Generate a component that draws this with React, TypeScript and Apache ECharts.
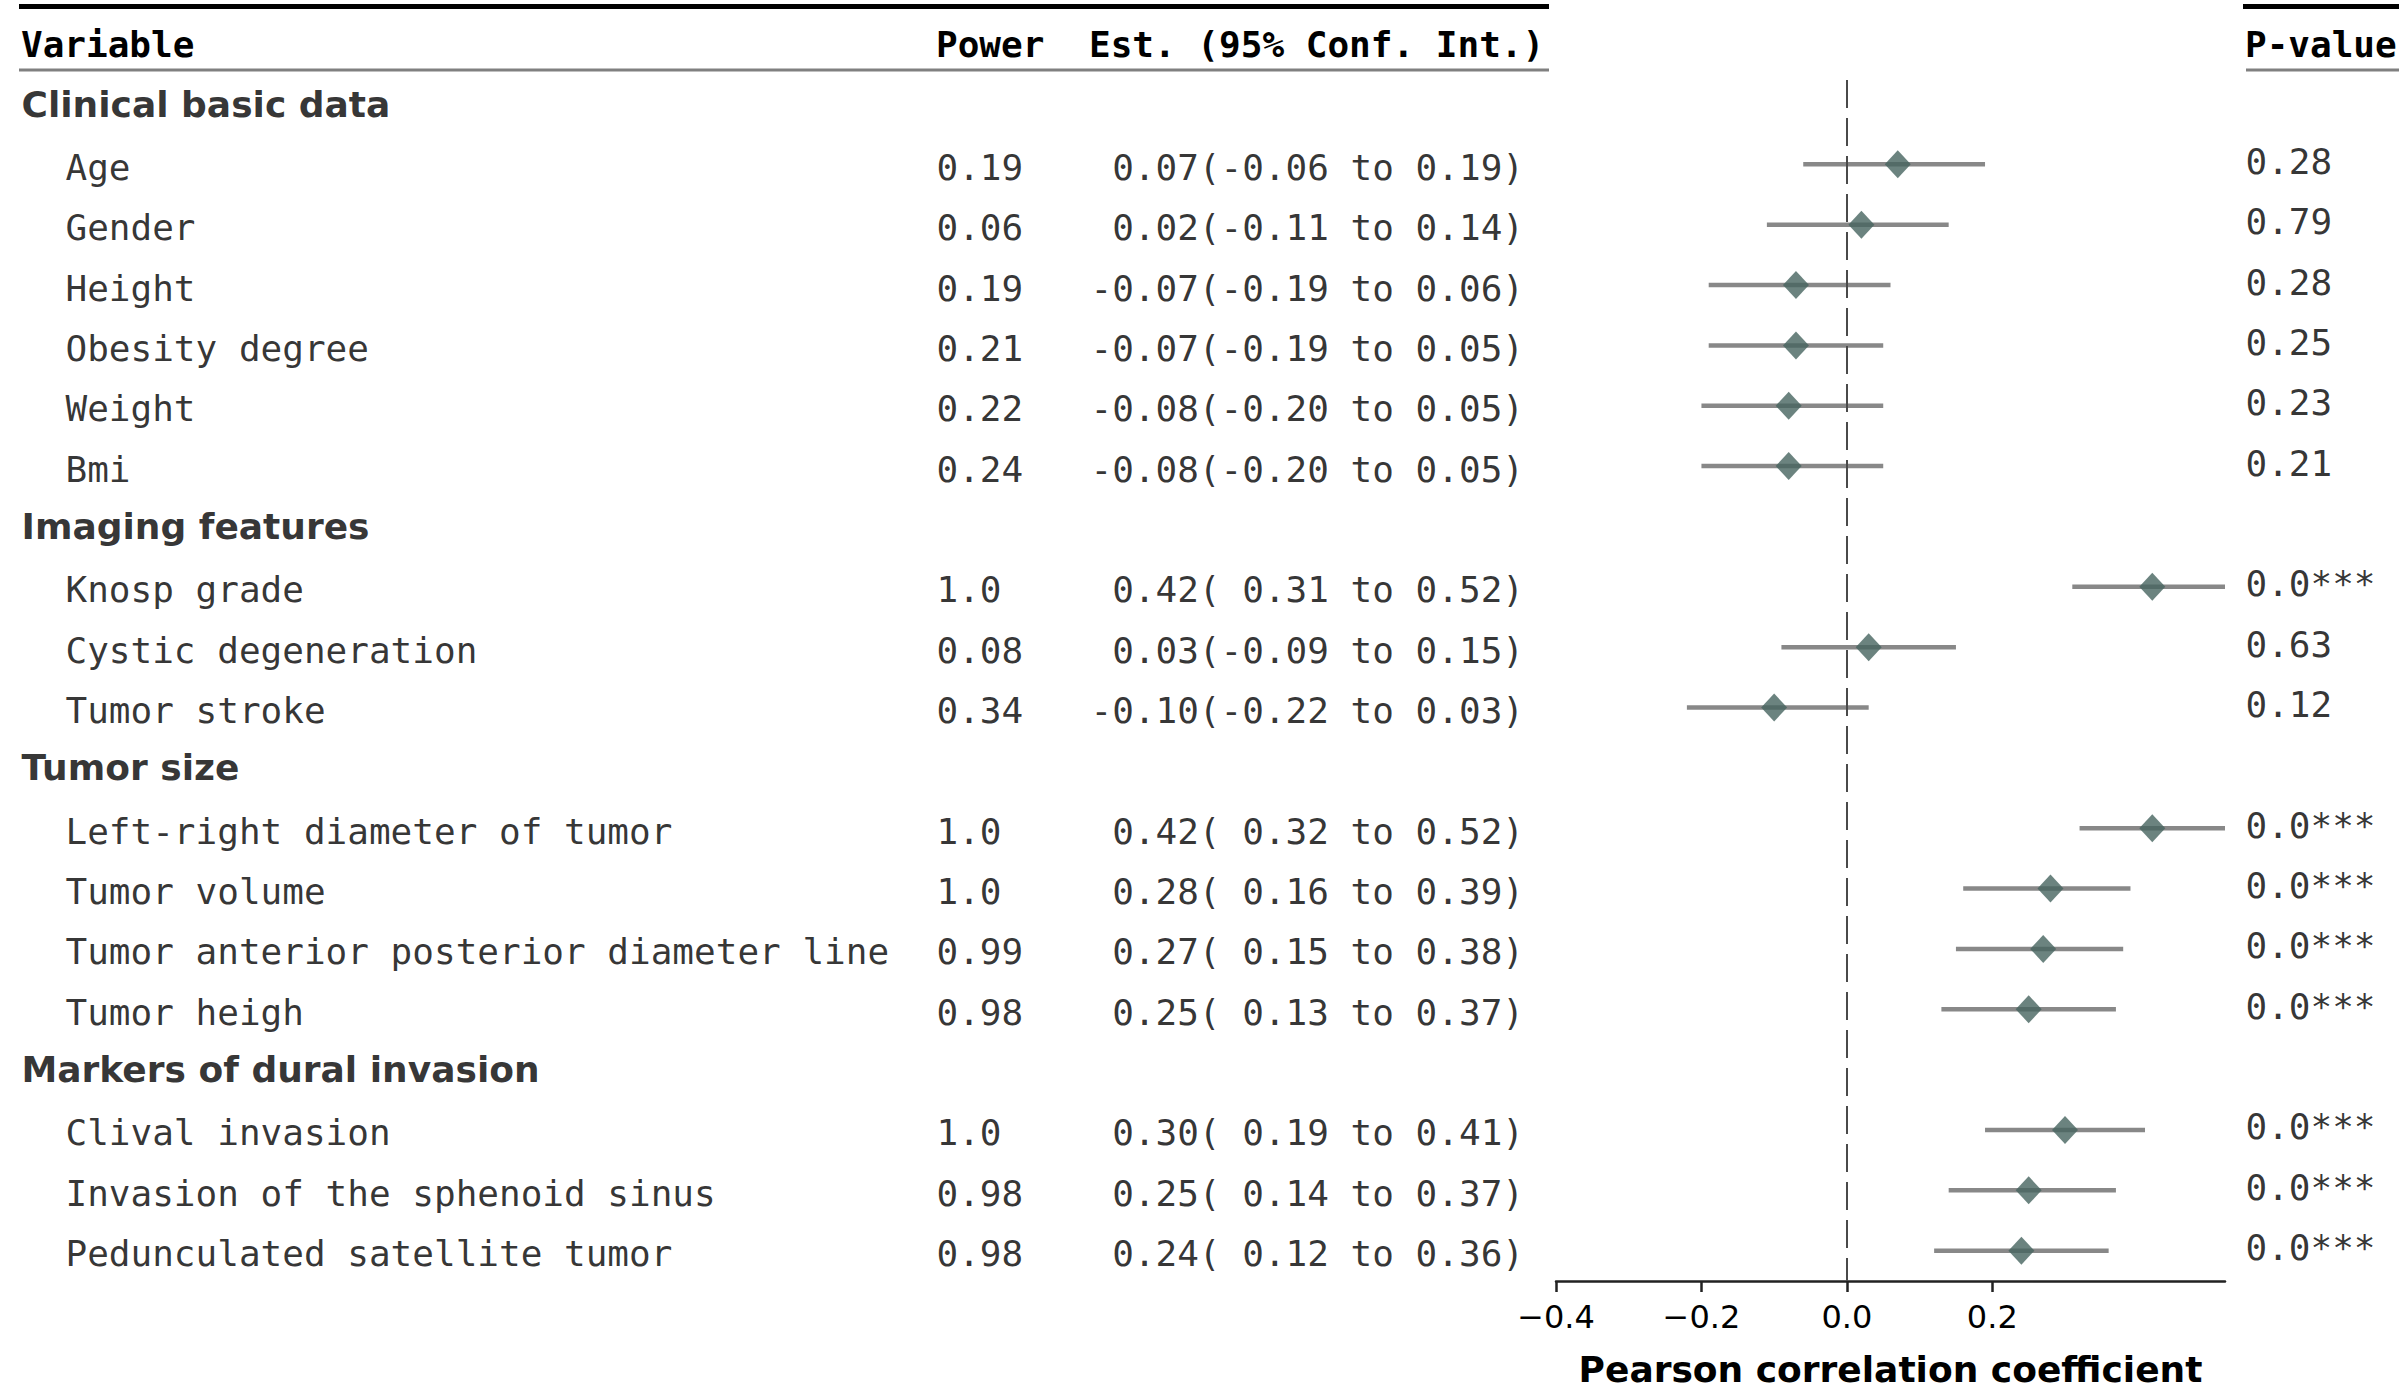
import React, { useEffect, useRef } from "react";
import * as echarts from "echarts";

// ---------- data ----------
const groups = [
  "Clinical basic data",
  "Imaging features",
  "Tumor size",
  "Markers of dural invasion",
];
const variables = [
  "Age",
  "Gender",
  "Height",
  "Obesity degree",
  "Weight",
  "Bmi",
  "Knosp grade",
  "Cystic degeneration",
  "Tumor stroke",
  "Left-right diameter of tumor",
  "Tumor volume",
  "Tumor anterior posterior diameter line",
  "Tumor heigh",
  "Clival invasion",
  "Invasion of the sphenoid sinus",
  "Pedunculated satellite tumor",
];
const groupOf = [0, 0, 0, 0, 0, 0, 1, 1, 1, 2, 2, 2, 2, 3, 3, 3];
const powers = ["0.19", "0.06", "0.19", "0.21", "0.22", "0.24", "1.0", "0.08", "0.34", "1.0", "1.0", "0.99", "0.98", "1.0", "0.98", "0.98"];
const estimates = [0.07, 0.02, -0.07, -0.07, -0.08, -0.08, 0.42, 0.03, -0.1, 0.42, 0.28, 0.27, 0.25, 0.3, 0.25, 0.24];
const lowers = [-0.06, -0.11, -0.19, -0.19, -0.2, -0.2, 0.31, -0.09, -0.22, 0.32, 0.16, 0.15, 0.13, 0.19, 0.14, 0.12];
const uppers = [0.19, 0.14, 0.06, 0.05, 0.05, 0.05, 0.52, 0.15, 0.03, 0.52, 0.39, 0.38, 0.37, 0.41, 0.37, 0.36];
const pValues = ["0.28", "0.79", "0.28", "0.25", "0.23", "0.21", "0.0***", "0.63", "0.12", "0.0***", "0.0***", "0.0***", "0.0***", "0.0***", "0.0***", "0.0***"];
const headers = ["Variable", "Power", "Est. (95% Conf. Int.)", "P-value"];
const xTicks = [-0.4, -0.2, 0, 0.2];
const xTitle = "Pearson correlation coefficient";

// ---------- layout ----------
const W = 2403;
const H = 1394;
const ROW_H = 60.35;
const ROW0_Y = 104;
const MONO = '"DejaVu Sans Mono", monospace';
const SANS = '"DejaVu Sans", sans-serif';
const FS = 36;

const fmt = (v: number) => (v < 0 ? "" : " ") + v.toFixed(2);

export default function App() {
  const ref = useRef<HTMLDivElement>(null);

  useEffect(() => {
    if (!ref.current) return;
    const chart = echarts.init(ref.current, undefined, { renderer: "svg" });

    // build rows
    const groupRows: { name: string; row: number }[] = [];
    const varRows: number[] = [];
    let row = 0;
    let lastG = -1;
    variables.forEach((_, i) => {
      if (groupOf[i] !== lastG) {
        lastG = groupOf[i];
        groupRows.push({ name: groups[lastG], row });
        row++;
      }
      varRows.push(row);
      row++;
    });

    const textYMin = -ROW0_Y / ROW_H;
    const textYMax = (H - ROW0_Y) / ROW_H;
    const plotTop = 80;
    const plotBottomY = 1281;
    const plotYMin = (plotTop - ROW0_Y) / ROW_H;
    const plotYMax = (plotBottomY - ROW0_Y) / ROW_H;

    const textSeries = (
      items: { x: number; row: number; text: string }[],
      font: string,
      weight: string,
      dy: number
    ) => ({
      type: "scatter",
      xAxisIndex: 1,
      yAxisIndex: 1,
      symbolSize: 1,
      silent: true,
      itemStyle: { color: "rgba(0,0,0,0)" },
      label: {
        show: true,
        position: "right",
        distance: 0,
        offset: [0, dy],
        formatter: "{b}",
        fontFamily: font,
        fontSize: FS,
        fontWeight: weight,
        color: "#000",
        verticalAlign: "middle",
        align: "left",
      },
      data: items.map((d) => ({ name: d.text, value: [d.x, d.row] })),
    });

    const headerX = [21, 936, 1089, 2245];

    chart.setOption({
      animation: false,
      backgroundColor: "#fff",
      grid: [
        { left: 1556, top: plotTop, width: 669, height: plotBottomY - plotTop },
        { left: 0, top: 0, width: W, height: H },
      ],
      xAxis: [
        {
          gridIndex: 0,
          type: "value",
          min: -0.4,
          max: 0.52,
          splitLine: { show: false },
          axisLine: { show: true, onZero: false, lineStyle: { color: "#222", width: 2.5 } },
          axisTick: {
            show: true,
            customValues: xTicks,
            length: 11,
            lineStyle: { color: "#222", width: 2.5 },
          },
          axisLabel: {
            customValues: xTicks,
            margin: 20,
            fontFamily: SANS,
            fontSize: 32,
            color: "#000",
            formatter: (v: number) =>
              v === 0 ? "0.0" : (v < 0 ? "\u2212" : "") + Math.abs(v).toFixed(1),
          },
          name: xTitle,
          nameLocation: "middle",
          nameGap: 70,
          nameTextStyle: {
            fontFamily: SANS,
            fontSize: 36,
            fontWeight: "bold",
            color: "#000",
          },
        },
        { gridIndex: 1, type: "value", min: 0, max: W, show: false },
      ],
      yAxis: [
        { gridIndex: 0, type: "value", inverse: true, min: plotYMin, max: plotYMax, show: false },
        { gridIndex: 1, type: "value", inverse: true, min: textYMin, max: textYMax, show: false },
      ],
      graphic: [
        { type: "line", shape: { x1: 19, y1: 6.5, x2: 1549, y2: 6.5 }, style: { stroke: "#000", lineWidth: 5 } },
        { type: "line", shape: { x1: 2243, y1: 6.5, x2: 2399, y2: 6.5 }, style: { stroke: "#000", lineWidth: 5 } },
        { type: "line", shape: { x1: 19, y1: 70, x2: 1549, y2: 70 }, style: { stroke: "#808080", lineWidth: 3 } },
        { type: "line", shape: { x1: 2246, y1: 70, x2: 2399, y2: 70 }, style: { stroke: "#808080", lineWidth: 3 } },
        ...headers.map((h, i) => ({
          type: "text",
          x: headerX[i],
          y: 44,
          style: {
            text: h,
            fill: "#000",
            font: `bold ${FS}px ${MONO}`,
            verticalAlign: "middle",
            align: "left",
          },
        })),
      ],
      series: [
        {
          type: "custom",
          xAxisIndex: 0,
          yAxisIndex: 0,
          silent: true,
          encode: { x: [0, 1], y: 2 },
          data: variables.map((_, i) => [lowers[i], uppers[i], varRows[i]]),
          renderItem: (params: any, api: any) => {
            const a = api.coord([api.value(0), api.value(2)]);
            const b = api.coord([api.value(1), api.value(2)]);
            return {
              type: "line",
              shape: { x1: a[0], y1: a[1], x2: b[0], y2: b[1] },
              style: { stroke: "#888888", lineWidth: 4.5 },
            };
          },
          markLine: {
            silent: true,
            symbol: "none",
            label: { show: false },
            lineStyle: { color: "#4a4a4a", width: 2, type: [28, 10] },
            data: [{ xAxis: 0 }],
          },
        },
        {
          type: "scatter",
          xAxisIndex: 0,
          yAxisIndex: 0,
          silent: true,
          symbol: "diamond",
          symbolSize: [26, 28],
          itemStyle: { color: "#46645f" },
          data: variables.map((_, i) => [estimates[i], varRows[i]]),
          z: 5,
        },
        textSeries(
          groupRows.map((g) => ({ x: 21, row: g.row, text: g.name })),
          SANS,
          "bold",
          0
        ),
        textSeries(
          variables.map((v, i) => ({ x: 65, row: varRows[i], text: v })),
          MONO,
          "normal",
          3
        ),
        textSeries(
          powers.map((p, i) => ({ x: 936, row: varRows[i], text: p })),
          MONO,
          "normal",
          3
        ),
        textSeries(
          variables.map((_, i) => ({
            x: 1090,
            row: varRows[i],
            text: `${fmt(estimates[i])}(${fmt(lowers[i])} to ${uppers[i].toFixed(2)})`,
          })),
          MONO,
          "normal",
          3
        ),
        textSeries(
          pValues.map((p, i) => ({ x: 2245, row: varRows[i], text: p })),
          MONO,
          "normal",
          -3
        ),
      ],
    });

    return () => chart.dispose();
  }, []);

  return (
    <div
      ref={ref}
      style={{ position: "absolute", left: 0, top: 0, width: W, height: H, background: "#fff" }}
    />
  );
}
